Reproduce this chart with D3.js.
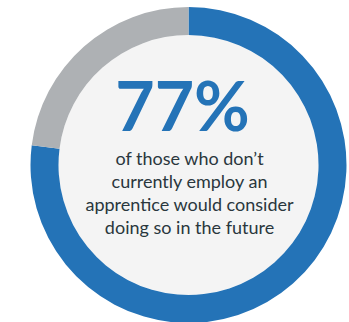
<!DOCTYPE html>
<html>
<head>
<meta charset="utf-8">
<script src="https://cdn.jsdelivr.net/npm/d3@7"></script>
<style>
  html, body { margin: 0; padding: 0; background: #ffffff; }
  svg { display: block; }
</style>
</head>
<body>
<svg id="chart" width="349" height="322"></svg>
<script>
// Share of respondents, in percent
const categories = ["Would consider", "Would not"];
const values = [77, 23];
const colors = ["#2473b7", "#aeb1b4"];
const headline = "77%";
const captionLines = [
  "of those who don\u2019t",
  "currently employ an",
  "apprentice would consider",
  "doing so in the future"
];

const svg = d3.select("#chart");
const cx = 188.5, cy = 165;
const outerR = 158, innerR = 130;

const g = svg.append("g").attr("transform", `translate(${cx},${cy})`);

// light disc inside the ring
g.append("circle").attr("r", innerR).attr("fill", "#f4f4f4");

const pie = d3.pie().sort(null).value(d => d)(values);
const arc = d3.arc().innerRadius(innerR).outerRadius(outerR);

g.selectAll("path.slice")
  .data(pie)
  .join("path")
  .attr("class", "slice")
  .attr("d", arc)
  .attr("fill", (d, i) => colors[i]);

g.append("text")
  .attr("x", -6)
  .attr("y", 131 - cy)
  .attr("text-anchor", "middle")
  .attr("font-family", "Lato, sans-serif")
  .attr("font-weight", 700)
  .attr("font-size", 68)
  .attr("fill", "#2473b7")
  .text(headline);

g.selectAll("text.caption")
  .data(captionLines)
  .join("text")
  .attr("class", "caption")
  .attr("x", 1)
  .attr("y", (d, i) => 165 - cy + i * 23)
  .attr("text-anchor", "middle")
  .attr("font-family", "Lato, sans-serif")
  .attr("font-size", 18)
  .attr("fill", "#2a373d")
  .text(d => d);
</script>
</body>
</html>
